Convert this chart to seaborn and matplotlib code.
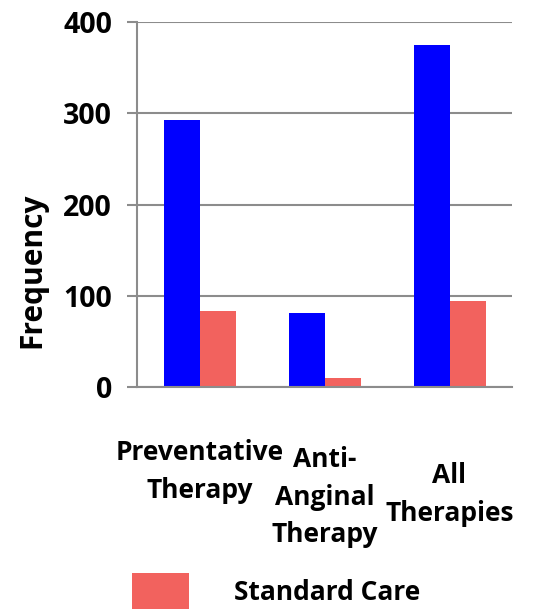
import seaborn as sns
import pandas as pd
import matplotlib.pyplot as plt
from matplotlib.patches import Patch
import matplotlib.transforms as mtransforms

# data
categories = ["Preventative\nTherapy", "Anti-\nAnginal\nTherapy", "All\nTherapies"]
groups = ["Intervention", "Standard Care"]
intervention = [293, 81, 375]
standard_care = [83, 10, 94]

df = pd.DataFrame({
    "category": categories * 2,
    "group": [groups[0]] * 3 + [groups[1]] * 3,
    "frequency": intervention + standard_care,
})

sns.set_style("white")
plt.rcParams["font.family"] = ["Open Sans", "DejaVu Sans"]
plt.rcParams["font.weight"] = "bold"
plt.rcParams["text.color"] = "black"
plt.rcParams["ytick.color"] = "black"
plt.rcParams["axes.labelcolor"] = "black"

blue = "#0000FF"
red = "#F2625E"
grid_c = "#8C8C8C"

fig = plt.figure(figsize=(5.5, 6.1), dpi=100)
ax = fig.add_axes([137 / 550, 1 - 387 / 610, 375 / 550, 365 / 610])

sns.barplot(data=df, x="category", y="frequency", hue="group",
            palette=[blue, red], width=0.576, gap=0, saturation=1,
            linewidth=0, legend=False, ax=ax)

ax.set_ylim(0, 400)
ax.set_xlim(-0.5, 2.5)
ax.set_yticks([0, 100, 200, 300, 400])
ax.yaxis.grid(True, color=grid_c, lw=1.5)
ax.set_axisbelow(True)
for s in ["top", "right"]:
    ax.spines[s].set_visible(False)
ax.spines["left"].set_color(grid_c)
ax.spines["left"].set_linewidth(1.5)
ax.spines["bottom"].set_color(grid_c)
ax.spines["bottom"].set_linewidth(1.5)
ax.tick_params(axis="y", length=7, width=1.5, color=grid_c, left=True,
               labelsize=20.5, pad=11, labelcolor="black")
ax.tick_params(axis="x", length=0, labelbottom=False)
for t in ax.get_yticklabels():
    t.set_fontweight("bold")

ax.set_xlabel("")
ax.set_ylabel("Frequency", fontsize=21.5, fontweight="bold")
ax.yaxis.set_label_coords(-0.24, 0.32)

# category labels, each at its own height like the original
trans = mtransforms.blended_transform_factory(ax.transData, ax.transAxes)
label_y = [-0.143, -0.162, -0.206]
for i, (cat, yy) in enumerate(zip(categories, label_y)):
    ax.text(i, yy, cat, transform=trans, ha="center", va="top",
            fontsize=19, fontweight="bold", linespacing=1.5)

handles = [Patch(facecolor=red, edgecolor="none", label=groups[1])]
fig.legend(handles=handles, loc="upper left",
           bbox_to_anchor=(132 / 550, 1 - 573 / 610), frameon=False,
           borderpad=0, borderaxespad=0, handlelength=2.15, handleheight=1.75,
           handletextpad=1.7, prop={"size": 19, "weight": "bold"})

fig.savefig("out.png", dpi=100)
